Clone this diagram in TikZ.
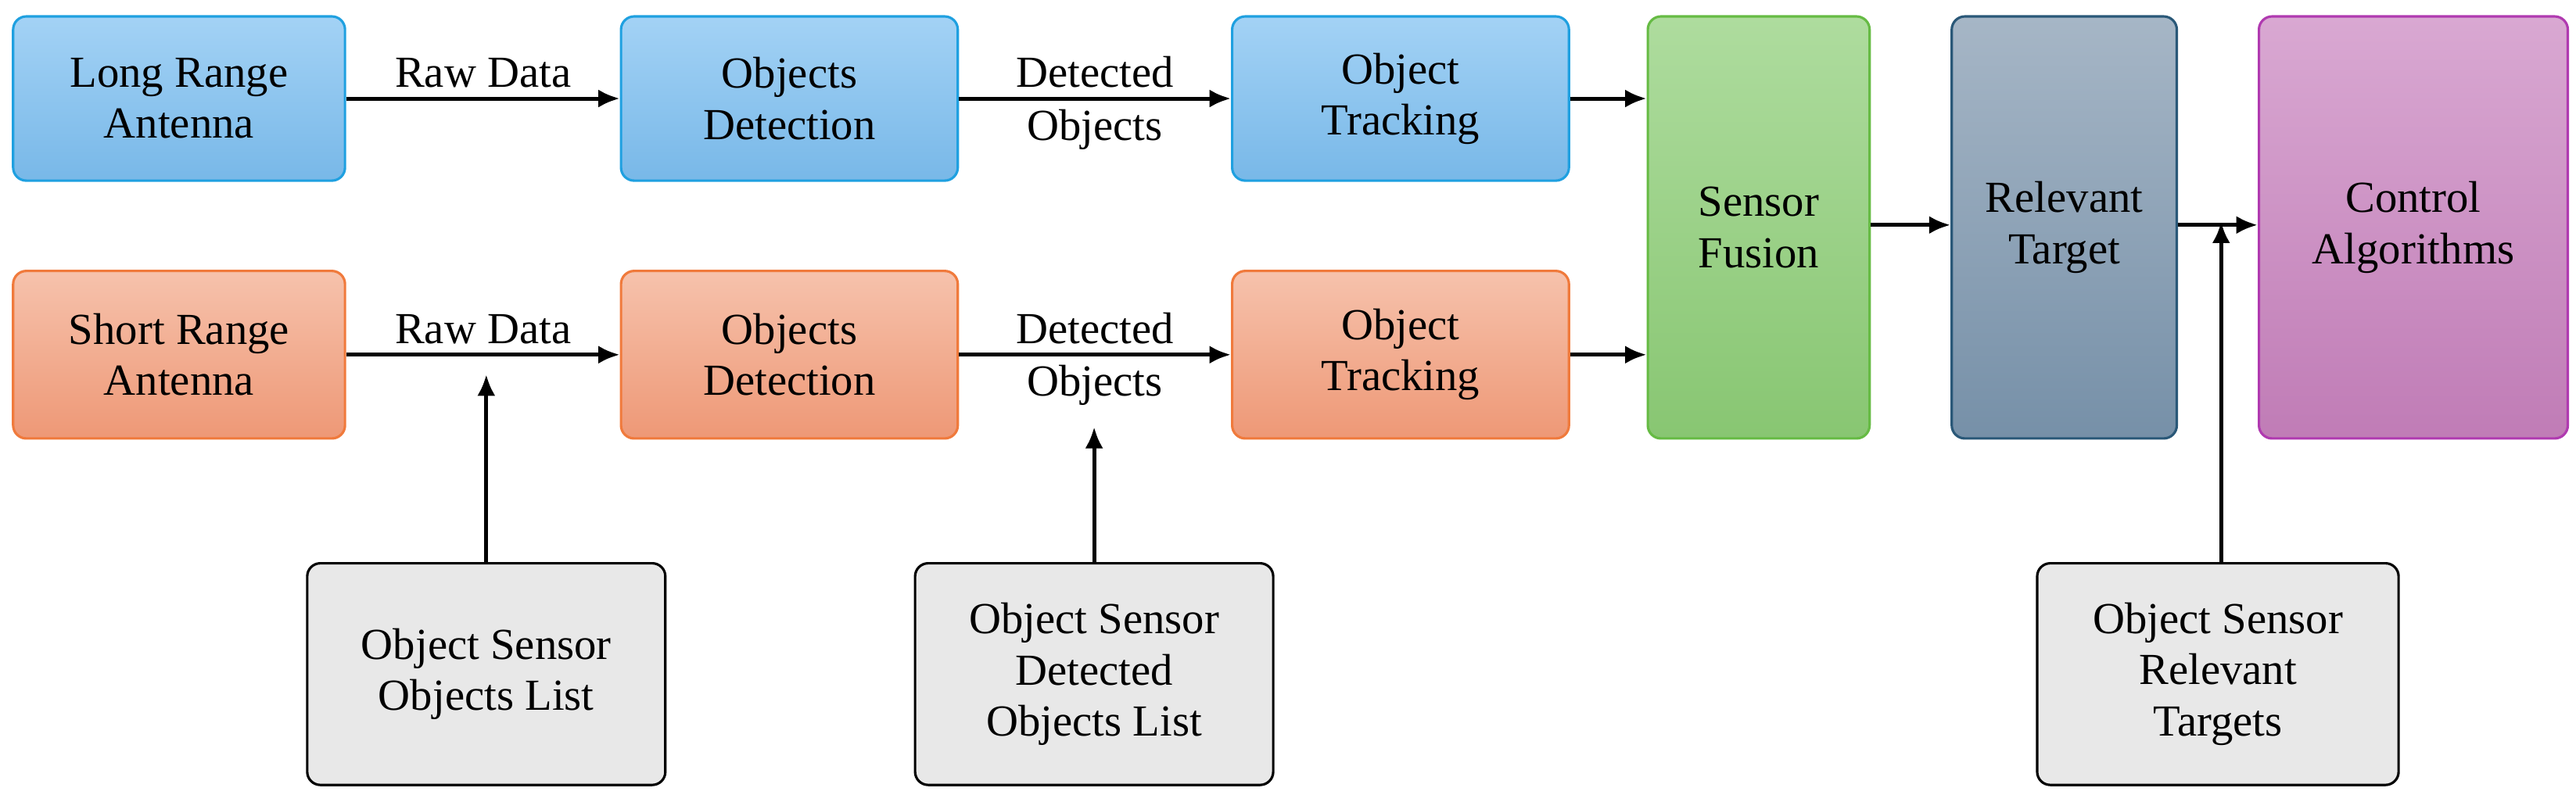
\documentclass[tikz,border=0pt]{standalone}
\usepackage{fontspec}
\setmainfont{Liberation Serif}
\usetikzlibrary{arrows.meta}
\definecolor{bT}{HTML}{A3D2F5}\definecolor{bB}{HTML}{78B8E8}\definecolor{bD}{HTML}{1FA0E0}
\definecolor{oT}{HTML}{F6C2AC}\definecolor{oB}{HTML}{EE9876}\definecolor{oD}{HTML}{F07A3C}
\definecolor{gT}{HTML}{AEDC9E}\definecolor{gB}{HTML}{88C672}\definecolor{gD}{HTML}{66BB44}
\definecolor{sT}{HTML}{A6B6C6}\definecolor{sB}{HTML}{7690A8}\definecolor{sD}{HTML}{2A5878}
\definecolor{pT}{HTML}{D9A8D2}\definecolor{pB}{HTML}{C07CB6}\definecolor{pD}{HTML}{B03AB0}
\begin{document}
\begin{tikzpicture}[x=1pt,y=-1pt,
 box/.style={rounded corners=8pt,line width=1.5pt,align=center,inner sep=0pt,font=\fontsize{27}{31}\selectfont},
 blue/.style={box,draw=bD,top color=bT,bottom color=bB},
 orange/.style={box,draw=oD,top color=oT,bottom color=oB},
 green/.style={box,draw=gD,top color=gT,bottom color=gB},
 steel/.style={box,draw=sD,top color=sT,bottom color=sB},
 purple/.style={box,draw=pD,top color=pT,bottom color=pB},
 gray/.style={box,draw=black,fill=black!9},
 arr/.style={-{Latex[length=13pt,width=11pt]},line width=2.4pt},
 lbl/.style={font=\fontsize{27}{31}\selectfont,align=center}]
\useasboundingbox (0,0) rectangle (1568,488);
\def\bx#1#2#3#4#5#6#7{\node[#1,minimum width=#4-#2,minimum height=#5-#3] (#6) at ({(#2+#4)/2},{(#3+#5)/2}) {#7};}
\bx{blue}{8}{10}{210}{110}{la}{Long Range\\Antenna}
\bx{blue}{378}{10}{583}{110}{od1}{Objects\\Detection}
\bx{blue}{750}{10}{955}{110}{ot1}{Object\\Tracking}
\bx{orange}{8}{165}{210}{267}{sa}{Short Range\\Antenna}
\bx{orange}{378}{165}{583}{267}{od2}{Objects\\Detection}
\bx{orange}{750}{165}{955}{267}{ot2}{Object\\Tracking}
\bx{green}{1003}{10}{1138}{267}{sf}{Sensor\\Fusion}
\bx{steel}{1188}{10}{1325}{267}{rt}{Relevant\\Target}
\bx{purple}{1375}{10}{1563}{267}{ca}{Control\\Algorithms}
\bx{gray}{187}{343}{405}{478}{g1}{Object Sensor\\Objects List}
\bx{gray}{557}{343}{775}{478}{g2}{Object Sensor\\Detected\\Objects List}
\bx{gray}{1240}{343}{1460}{478}{g3}{Object Sensor\\Relevant\\Targets}
\draw[arr] (la.east) -- (od1.west) node[lbl,midway,above=2pt]{Raw Data};
\draw[arr] (od1.east) -- (ot1.west) node[lbl,midway,above=2pt]{Detected} node[lbl,midway,below=2pt]{Objects};
\draw[arr] (sa.east) -- (od2.west) node[lbl,midway,above=2pt]{Raw Data};
\draw[arr] (od2.east) -- (ot2.west) node[lbl,midway,above=2pt]{Detected} node[lbl,midway,below=2pt]{Objects};
\draw[arr] (ot1.east) -- (ot1.east -| sf.west);
\draw[arr] (ot2.east) -- (ot2.east -| sf.west);
\draw[arr] (sf.east |- 0,137) -- (rt.west |- 0,137);
\coordinate (m) at (1352,137);
\draw[arr] (rt.east |- m) -- (ca.west |- m);
\draw[arr] (g1.north -| 296,0) -- (296,228);
\draw[arr] (g2.north -| 666,0) -- (666,260);
\draw[arr] (g3.north -| m) -- ([yshift=2pt]m);
\end{tikzpicture}
\end{document}
